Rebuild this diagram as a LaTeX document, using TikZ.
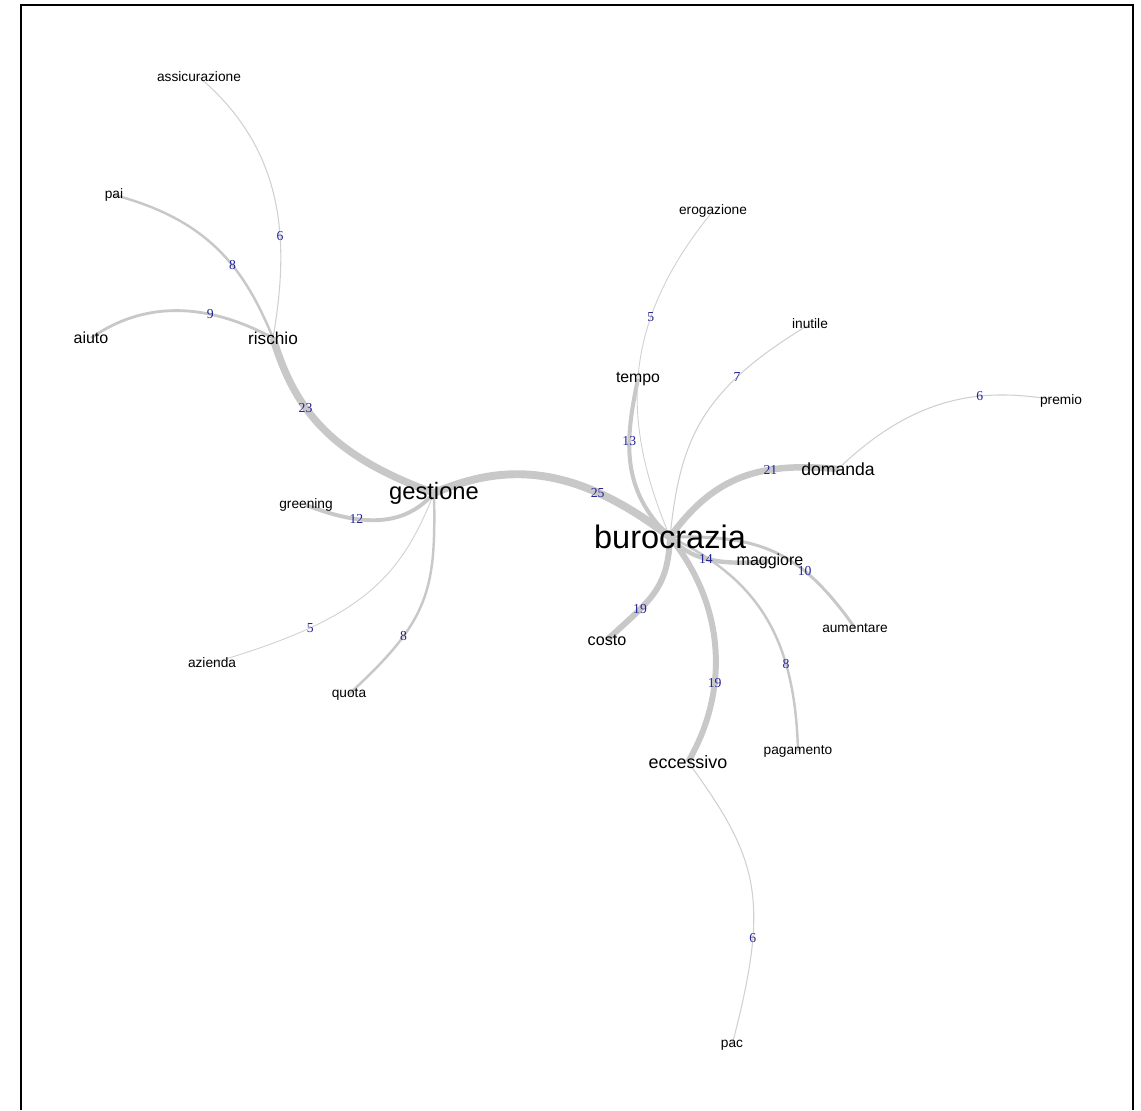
\documentclass[tikz,border=0pt]{standalone}
\usepackage{fontspec}
\setmainfont{Liberation Sans}
\newfontfamily\weightfont{Liberation Serif}
\usepackage{xcolor}
\usepackage{tikz}
\usetikzlibrary{backgrounds}
\definecolor{edgegray}{RGB}{200,200,200}
\definecolor{thingray}{RGB}{208,208,208}
\definecolor{weightblue}{RGB}{35,35,150}
\tikzset{
  term/.style={
    font=\fontsize{#1}{#1}\selectfont, inner sep=0pt, text=black
  },
  cooc/.style={
    draw=edgegray, line width=#1
  },
  weakcooc/.style={
    draw=thingray, line width=#1
  },
  weightlabel/.style={
    font=\weightfont\fontsize{7.8}{8}\selectfont, text=weightblue,
    inner sep=0pt
  },
  frameline/.style={
    line width=1.4pt, black
  },
}

\begin{document}
\begin{tikzpicture}[x=0.02cm, y=-0.02cm]
  \useasboundingbox (0,0) rectangle (1141,1110);

  % Frame
  \draw[frameline] (21,1110) -- (21,5) -- (1133,5) -- (1133,1110);

  % Hubs
  \node[term=18.5] (burocrazia) at (670,537) {burocrazia};
  \node[term=13.5] (gestione) at (434,493) {gestione};
  \node[term=9.8] (rischio) at (273,338) {rischio};

  % Terms around rischio
  \node[term=7.8] (assicurazione) at (199,77) {assicurazione};
  \node[term=7.8] (pai) at (114,195) {pai};
  \node[term=9.1] (aiuto) at (91,338) {aiuto};

  % Terms around gestione
  \node[term=7.8] (greening) at (306,505) {greening};
  \node[term=7.8] (azienda) at (212,663) {azienda};
  \node[term=7.8] (quota) at (349,694) {quota};

  % Terms around burocrazia
  \node[term=7.8] (erogazione) at (713,211) {erogazione};
  \node[term=7.8] (inutile) at (810,324) {inutile};
  \node[term=9.0] (tempo) at (638,379) {tempo};
  \node[term=10] (domanda) at (838,469) {domanda};
  \node[term=7.8] (premio) at (1061,401) {premio};
  \node[term=9.1] (maggiore) at (770,561) {maggiore};
  \node[term=7.8] (aumentare) at (855,628) {aumentare};
  \node[term=9.2] (costo) at (607,640) {costo};
  \node[term=7.8] (pagamento) at (798,751) {pagamento};
  \node[term=10.2] (eccessivo) at (688,762) {eccessivo};
  \node[term=7.8] (pac) at (732,1045) {pac};

  % Co-occurrence edges
  \begin{scope}[on background layer]
    \draw[cooc=4.5pt] (gestione.center) .. controls (500,465) and (570,460) ..
      coordinate[pos=0.74] (w-gest-buro) (burocrazia.center);
    \draw[cooc=4.2pt] (rischio.center) .. controls (295,410) and (330,455) ..
      coordinate[pos=0.37] (w-risc-gest) (gestione.center);
    \draw[cooc=1.6pt] (rischio.center) .. controls (230,315) and (160,290) ..
      coordinate[pos=0.4] (w-risc-aiuto) (aiuto.center);
    \draw[cooc=1.4pt] (rischio.center) .. controls (245,270) and (210,220) ..
      coordinate[pos=0.4] (w-risc-pai) (pai.center);
    \draw[weakcooc=0.6pt] (rischio.center) .. controls (290,240) and (285,150) ..
      coordinate[pos=0.36] (w-risc-assic) (assicurazione.center);

    \draw[cooc=2.2pt] (gestione.center) .. controls (410,520) and (375,532) ..
      coordinate[pos=0.72] (w-gest-green) (greening.center);
    \draw[weakcooc=0.5pt] (gestione.center) .. controls (400,580) and (360,620) ..
      coordinate[pos=0.73] (w-gest-azienda) (azienda.center);
    \draw[cooc=1.4pt] (gestione.center) .. controls (436,590) and (430,620) ..
      coordinate[pos=0.7] (w-gest-quota) (quota.center);

    \draw[cooc=2.3pt] (burocrazia.center) .. controls (620,490) and (625,440) ..
      coordinate[pos=0.64] (w-buro-tempo) (tempo.center);
    \draw[weakcooc=0.5pt] (burocrazia.center) .. controls (625,430) and (615,330) ..
      coordinate[pos=0.69] (w-buro-erog) (erogazione.center);
    \draw[weakcooc=0.6pt] (burocrazia.center) .. controls (680,440) and (700,390) ..
      coordinate[pos=0.72] (w-buro-inutile) (inutile.center);
    \draw[cooc=3.7pt] (burocrazia.center) .. controls (715,475) and (760,462) ..
      coordinate[pos=0.67] (w-buro-dom) (domanda.center);
    \draw[weakcooc=0.6pt] (domanda.center) .. controls (920,390) and (990,388) ..
      coordinate[pos=0.62] (w-dom-premio) (premio.center);
    \draw[cooc=2.5pt] (burocrazia.center) .. controls (690,560) and (720,566) ..
      coordinate[pos=0.47] (w-buro-magg) (maggiore.center);
    \draw[cooc=1.7pt] (burocrazia.center) .. controls (760,535) and (800,550) ..
      coordinate[pos=0.68] (w-buro-aum) (aumentare.center);
    \draw[cooc=1.4pt] (burocrazia.center) .. controls (760,580) and (795,640) ..
      coordinate[pos=0.7] (w-buro-pag) (pagamento.center);
    \draw[cooc=3.4pt] (burocrazia.center) .. controls (668,590) and (650,600) ..
      coordinate[pos=0.69] (w-buro-costo) (costo.center);
    \draw[cooc=3.4pt] (burocrazia.center) .. controls (725,605) and (730,690) ..
      coordinate[pos=0.65] (w-buro-ecc) (eccessivo.center);
    \draw[weakcooc=0.6pt] (eccessivo.center) .. controls (760,860) and (770,900) ..
      coordinate[pos=0.7] (w-ecc-pac) (pac.center);
  \end{scope}

  % Edge weights
  \node[weightlabel] at (w-gest-buro) {25};
  \node[weightlabel] at (w-risc-gest) {23};
  \node[weightlabel] at (w-risc-aiuto) {9};
  \node[weightlabel] at (w-risc-pai) {8};
  \node[weightlabel] at (w-risc-assic) {6};
  \node[weightlabel] at (w-gest-green) {12};
  \node[weightlabel] at (w-gest-azienda) {5};
  \node[weightlabel] at (w-gest-quota) {8};
  \node[weightlabel] at (w-buro-tempo) {13};
  \node[weightlabel] at (w-buro-erog) {5};
  \node[weightlabel] at (w-buro-inutile) {7};
  \node[weightlabel] at (w-buro-dom) {21};
  \node[weightlabel] at (w-dom-premio) {6};
  \node[weightlabel] at (w-buro-magg) {14};
  \node[weightlabel] at (w-buro-aum) {10};
  \node[weightlabel] at (w-buro-pag) {8};
  \node[weightlabel] at (w-buro-costo) {19};
  \node[weightlabel] at (w-buro-ecc) {19};
  \node[weightlabel] at (w-ecc-pac) {6};
\end{tikzpicture}
\end{document}
